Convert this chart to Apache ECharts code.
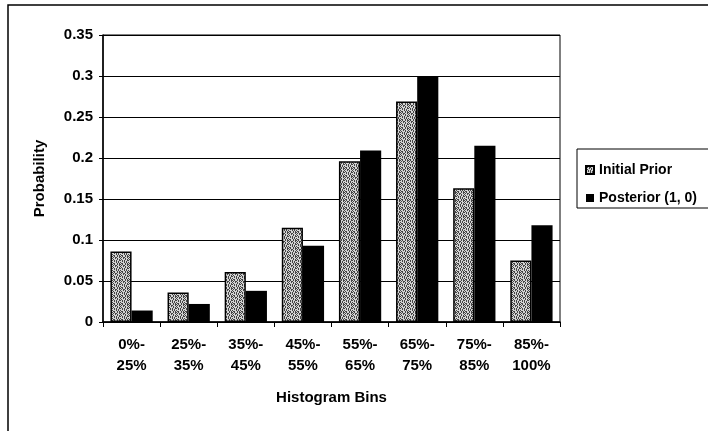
<!DOCTYPE html>
<html>
<head>
<meta charset="utf-8">
<script src="https://cdn.jsdelivr.net/npm/echarts@6/dist/echarts.min.js"></script>
<style>
html,body{margin:0;padding:0;background:#fff;}
#chart{width:708px;height:431px;}
</style>
</head>
<body>
<div id="chart"></div>
<script>
const categories = ['0%-\n25%', '25%-\n35%', '35%-\n45%', '45%-\n55%', '55%-\n65%', '65%-\n75%', '75%-\n85%', '85%-\n100%'];
const initialPrior = [0.086, 0.036, 0.061, 0.115, 0.196, 0.269, 0.163, 0.075];
const posterior = [0.014, 0.022, 0.038, 0.093, 0.209, 0.300, 0.215, 0.118];
const seriesNames = ['Initial Prior', 'Posterior (1, 0)'];
const yTicks = { min: 0, max: 0.35, interval: 0.05 };

// stipple texture for the prior bars (fixed pattern)
function makePattern() {
  const rows = [
    '#.#..#.#',
    '.#.##..#',
    '#..#.#..',
    '.#...#.#',
    '#.#.#..#',
    '..#.#.#.',
    '#...#.#.',
    '.##..#.#'
  ];
  const c = document.createElement('canvas');
  c.width = 8; c.height = 8;
  const ctx = c.getContext('2d');
  ctx.fillStyle = '#d4d4d4';
  ctx.fillRect(0, 0, 8, 8);
  ctx.fillStyle = '#444444';
  for (let y = 0; y < 8; y++) for (let x = 0; x < 8; x++) if (rows[y][x] === '#') ctx.fillRect(x, y, 1, 1);
  return c;
}
const pattern = { image: makePattern(), repeat: 'repeat' };

const font = 'Liberation Sans, Arial, sans-serif';
const chart = echarts.init(document.getElementById('chart'), null, { renderer: 'canvas' });
chart.setOption({
  animation: false,
  backgroundColor: '#fff',
  textStyle: { fontFamily: font, color: '#000' },
  graphic: [
    { type: 'rect', shape: { x: 8, y: 5, width: 720, height: 440 }, style: { fill: 'none', stroke: '#000', lineWidth: 1.5 }, z: 0 },
    { type: 'rect', shape: { x: 577, y: 149, width: 140, height: 59 }, style: { fill: 'none', stroke: '#000', lineWidth: 1 }, z: 0 }
  ],
  grid: { left: 103, right: 148, top: 35, bottom: 109, show: true, borderColor: '#000', borderWidth: 1 },
  legend: {
    orient: 'vertical', left: 580, top: 158, itemWidth: 8, itemHeight: 8, itemGap: 14,
    icon: 'rect',
    textStyle: { fontFamily: font, fontWeight: 'bold', fontSize: 14, color: '#000' },
    data: seriesNames
  },
  xAxis: {
    type: 'category', data: categories,
    name: 'Histogram Bins', nameLocation: 'middle', nameGap: 68,
    nameTextStyle: { fontFamily: font, fontWeight: 'bold', fontSize: 15, color: '#000' },
    axisLine: { lineStyle: { color: '#000', width: 1.5 } },
    axisTick: { show: true, length: 5, lineStyle: { color: '#000' } },
    axisLabel: { fontFamily: font, fontWeight: 'bold', fontSize: 15, color: '#000', margin: 12, lineHeight: 21 }
  },
  yAxis: {
    type: 'value', min: yTicks.min, max: yTicks.max, interval: yTicks.interval,
    name: 'Probability', nameLocation: 'middle', nameGap: 56, nameRotate: 90,
    nameTextStyle: { fontFamily: font, fontWeight: 'bold', fontSize: 15, color: '#000' },
    axisLine: { show: true, lineStyle: { color: '#000', width: 1.5 } },
    axisTick: { show: true, length: 4, lineStyle: { color: '#000' } },
    axisLabel: { fontFamily: font, fontWeight: 'bold', fontSize: 15, color: '#000', margin: 10 },
    splitLine: { show: true, lineStyle: { color: '#000', width: 1 } }
  },
  series: [
    {
      name: seriesNames[0], type: 'bar', data: initialPrior,
      barGap: '0%', barCategoryGap: '26%',
      itemStyle: { color: pattern, borderColor: '#000', borderWidth: 1.5 }
    },
    {
      name: seriesNames[1], type: 'bar', data: posterior,
      barGap: '0%', barCategoryGap: '26%',
      itemStyle: { color: '#000' }
    }
  ]
});
</script>
</body>
</html>
